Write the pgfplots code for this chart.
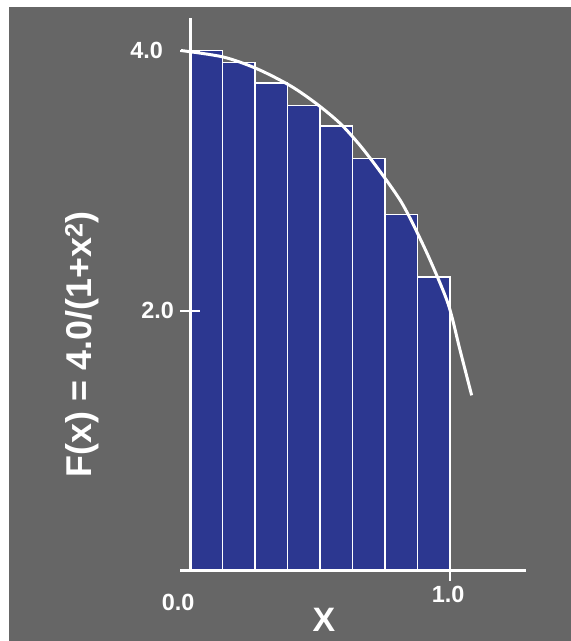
\documentclass[border=0pt]{standalone}
\usepackage{pgfplots}
\pgfplotsset{compat=1.18}
\usepackage{fontspec}
\setmainfont{Liberation Sans}
\definecolor{bg}{RGB}{102,102,102}
\definecolor{barblue}{RGB}{44,55,144}
\begin{document}
\begin{tikzpicture}[x=1bp,y=1bp]
\useasboundingbox (0,0) rectangle (571,641);
\fill[bg] (9,0) rectangle (571,634);
\begin{axis}[
  at={(180bp,70bp)}, anchor=south west,
  scale only axis, width=346bp, height=553bp,
  xmin=-0.0385, xmax=1.292, ymin=0, ymax=4.25,
  clip=false,
  axis on top,
  axis lines=middle,
  axis line style={white, line width=3bp, -},
  tick align=center,
  major tick length=20bp,
  tick style={white, line width=2bp},
  xtick={1}, xticklabels={1.0},
  ytick={2,4}, yticklabels={2.0,{4.0\kern11bp}},
  /pgf/number format/assume math mode=true,
  xticklabel style={font=\fontsize{23.5}{28}\selectfont\bfseries, text=white, anchor=north, inner sep=0pt, yshift=-5bp, xshift=-2bp},
  yticklabel style={font=\fontsize{23.5}{28}\selectfont\bfseries, text=white, anchor=east, inner sep=0pt, xshift=-6bp},
]
\addplot[ybar, bar width=0.125, fill=barblue, draw=white, line width=1.2bp]
  coordinates {(0.0625,4.00) (0.1875,3.91) (0.3125,3.75) (0.4375,3.58)
               (0.5625,3.42) (0.6875,3.17) (0.8125,2.74) (0.9375,2.26)};
\addplot[white, line width=3bp, smooth, no marks]
  coordinates {(-0.035,4.00) (0.128,3.95) (0.257,3.86) (0.385,3.73) (0.487,3.59)
               (0.577,3.44) (0.654,3.27) (0.731,3.07) (0.808,2.85) (0.859,2.66)
               (0.923,2.39) (0.993,2.05) (1.038,1.70) (1.083,1.35)};
\node[text=white, font=\fontsize{23.5}{28}\selectfont\bfseries] at (axis cs:-0.046,-0.238) {0.0};
\node[text=white, font=\fontsize{34}{40}\selectfont\bfseries] at (axis description cs:0.416,-0.0886) {X};
\node[text=white, rotate=90, font=\fontsize{36}{42}\selectfont\bfseries] at (axis description cs:-0.283,0.410) {F(x) = 4.0/(1+x\textsuperscript{2})};
\end{axis}
\end{tikzpicture}
\end{document}
